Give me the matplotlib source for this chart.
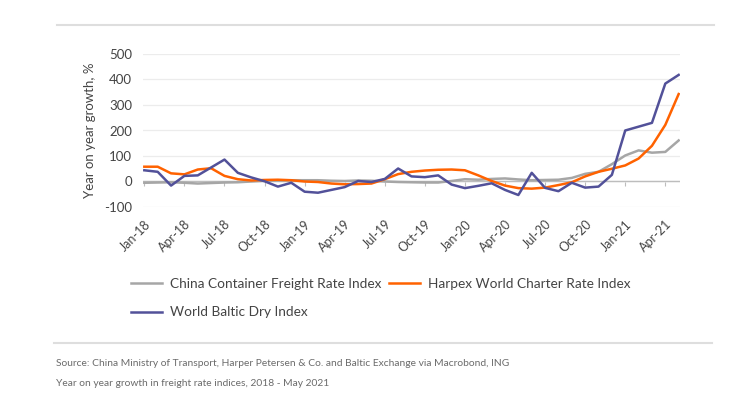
import numpy as np
import matplotlib
matplotlib.use("Agg")
import matplotlib.pyplot as plt
from matplotlib.lines import Line2D

plt.rcParams["font.family"] = ["Lato", "DejaVu Sans"]

# monthly data Jan-18 .. May-21 (yoy growth, %)
months = ["Jan-18", "Feb-18", "Mar-18", "Apr-18", "May-18", "Jun-18", "Jul-18", "Aug-18",
          "Sep-18", "Oct-18", "Nov-18", "Dec-18", "Jan-19", "Feb-19", "Mar-19", "Apr-19",
          "May-19", "Jun-19", "Jul-19", "Aug-19", "Sep-19", "Oct-19", "Nov-19", "Dec-19",
          "Jan-20", "Feb-20", "Mar-20", "Apr-20", "May-20", "Jun-20", "Jul-20", "Aug-20",
          "Sep-20", "Oct-20", "Nov-20", "Dec-20", "Jan-21", "Feb-21", "Mar-21", "Apr-21",
          "May-21"]

ccfi = [-5, -4, -3, -5, -8, -6, -4, -3, 0, 3, 4, 5, 5, 5, 3, 2, 4, 3, 0, -2, -3,
        -4, -4, 2, 9, 7, 10, 12, 8, 5, 6, 7, 14, 30, 38, 68, 102, 122, 113, 116, 161]
harpex = [58, 58, 32, 28, 47, 52, 22, 9, 4, 6, 7, 5, 0, -2, -8, -11, -10, -8, 9, 29, 38,
          43, 46, 47, 44, 24, 2, -16, -26, -28, -24, -14, -3, 20, 38, 50, 63, 90, 140, 222, 343]
bdi = [44, 38, -16, 22, 24, 55, 86, 34, 16, 1, -20, -5, -40, -44, -33, -22, 2, -2, 10, 51, 20,
       17, 24, -12, -26, -17, -7, -33, -53, 34, -25, -38, -5, -24, -20, 26, 200, 215, 230, 384, 418]

series_names = ["China Container Freight Rate Index", "Harpex World Charter Rate Index",
                "World Baltic Dry Index"]
colors = ["#a6a6a6", "#ff6200", "#525199"]

yticks = [-100, 0, 100, 200, 300, 400, 500]

x = np.arange(len(months))
txt = "#444444"

fig = plt.figure(figsize=(7.55, 4.03), dpi=100)
ax = fig.add_axes([143/755, 1-207/403, (680-143)/755, (207-54)/403])

for v in yticks:
    ax.axhline(v, color="#ececec", lw=0.9, zorder=0)
ax.axhline(0, color="#bdbdbd", lw=1.0, zorder=1)

ax.plot(x, ccfi, color=colors[0], lw=1.8, zorder=3)
ax.plot(x, harpex, color=colors[1], lw=1.8, zorder=4)
ax.plot(x, bdi, color=colors[2], lw=1.8, zorder=5)

ax.set_xlim(-0.1, len(months) - 0.9)
ax.set_ylim(-100, 500)
ax.set_yticks(yticks)
ax.set_yticklabels([str(v) for v in yticks], fontsize=9.5, color=txt)
ax.set_xticks(x[::3])
ax.set_xticklabels(months[::3], rotation=45, ha="right", rotation_mode="anchor",
                   fontsize=9, color=txt)
ax.tick_params(axis="both", length=0, pad=8)
ax.tick_params(axis="x", pad=8)
for s in ax.spines.values():
    s.set_visible(False)
ax.set_ylabel("Year on year growth, %", fontsize=9.5, color=txt, labelpad=6)

# small tick marks on the zero line
sec = ax.secondary_xaxis(1/6)
sec.set_xticks(x[::3])
sec.set_xticklabels([])
sec.tick_params(direction="out", length=3, color="#bdbdbd")
sec.spines["bottom"].set_visible(False)
sec.spines["top"].set_visible(False)

handles = [Line2D([], [], color=colors[0], lw=1.8),
           Line2D([], [], color=colors[2], lw=1.8),
           Line2D([], [], color=colors[1], lw=1.8)]
labels = [series_names[0], series_names[2], series_names[1]]
fig.legend(handles, labels, loc="upper left", bbox_to_anchor=(131/755, 1-278/403),
           ncol=2, frameon=False, fontsize=9.8, handlelength=2.3, handletextpad=0.6,
           columnspacing=0.5, labelspacing=1.2, borderpad=0, borderaxespad=0,
           labelcolor=txt)

# separators and footer
fig.add_artist(Line2D([57/755, 714/755], [1-25/403, 1-25/403], color="#dedede", lw=1.5))
fig.add_artist(Line2D([54/755, 712/755], [1-343/403, 1-343/403], color="#dedede", lw=1.5))
fig.text(56/755, 1-364/403, "Source: China Ministry of Transport, Harper Petersen & Co. and Baltic Exchange via Macrobond, ING",
         fontsize=7.4, color="#6b6b6b", va="center")
fig.text(56/755, 1-384/403, "Year on year growth in freight rate indices, 2018 - May 2021",
         fontsize=7.4, color="#6b6b6b", va="center")

fig.savefig("out.png", dpi=100, facecolor="white")
